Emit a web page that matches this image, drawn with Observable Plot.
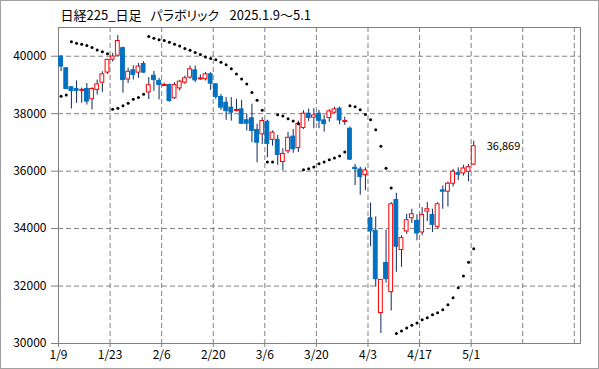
<!DOCTYPE html>
<html><head><meta charset="utf-8">
<script src="https://cdn.jsdelivr.net/npm/d3@7"></script>
<script src="https://cdn.jsdelivr.net/npm/@observablehq/plot@0.6"></script>
<style>
html,body{margin:0;padding:0;background:#fff;}
#chart svg{display:block;outline:1px solid #a0a0a0;outline-offset:-1px;}
</style></head><body><div id="chart"></div>
<script>
// Daily candles, one slot per weekday from 2025-01-09 to 2025-05-01
const opens  = [39990,39580,38920,38860,38830,38860,38500,38830,39080,39430,
                39880,40020,40280,39190,39510,39430,39730,38740,39320,39140,
                39000,39000,38535,38880,39080,39256,39510,39230,39200,39370,
                39020,38580,38380,38210,38130,38150,37770,37840,37430,37280,
                37720,37090,37090,36318,36690,37200,36800,37500,38000,37860,
                38000,37767,37850,38035,38175,37744,37477,36116,36058,35860,
                34360,33920,31061,32803,31788,34996,33254,33900,34361,34270,
                33865,34592,34477,34061,35331,35285,35562,35930,35920,35977,
                36230];
const highs  = [40010,39600,38930,39140,38890,39050,38900,39170,39460,39900,
                40100,40720,40320,39580,39670,39750,39810,39260,39470,39230,
                39060,39030,39080,39160,39310,39660,39660,39350,39430,39430,
                39050,38670,38560,38560,38500,38465,37980,38330,37630,37860,
                37770,37400,37245,36780,37350,37450,37740,38100,38160,38175,
                38116,37940,38140,38230,38230,37880,37535,36233,36140,36116,
                34890,34407,32215,33946,34904,35227,33750,34500,34673,34480,
                34730,34904,34673,34900,35480,35620,36060,36115,36207,36230,
                37040];
const lows   = [39465,38840,38165,38360,38360,38300,38130,38650,38730,39370,
                39800,39990,38710,39050,39170,39230,39400,38490,38780,38480,
                38940,38400,38500,38790,39020,39200,39080,39160,39140,38810,
                38500,38115,37770,37740,38060,37630,37400,36990,36290,36930,
                36465,36870,36200,36020,36600,36620,36650,37450,37720,37480,
                37477,37360,37700,38000,37616,37593,36370,35500,35160,35320,
                33370,31961,30345,32100,31130,32480,32653,33800,34177,33577,
                33750,34246,33865,34000,34673,34750,35450,35677,35827,35630,
                36200];
const closes = [39640,38860,38790,38790,38830,38420,38860,39020,39370,39870,
                39990,40530,39170,39460,39350,39640,39430,38990,39170,39000,
                39000,38440,39000,39115,39230,39547,39160,39230,39370,39045,
                38580,38210,38090,38035,38130,37650,37650,37400,36990,37745,
                36950,37340,36560,36600,37160,36760,37650,38000,37850,37940,
                37750,37640,38080,38150,37767,37744,36400,36070,35790,36023,
                33900,32238,32215,32238,34846,33369,33669,34292,34500,33830,
                34477,34673,34130,34846,35284,35562,35977,35873,36092,36138,
                36869];
// Parabolic SAR, one value per slot
const sar    = [38610,38650,40500,40450,40415,40370,40300,40220,40160,40090,
                38150,38190,38280,38360,38500,38560,38675,40683,40625,40570,
                40545,40486,40420,40360,40270,40210,40130,40060,39976,39918,
                39880,39790,39700,39560,39380,39210,39030,38740,38470,38118,
                36314,36314,37965,37919,37826,37744,37651,36046,36081,36140,
                36256,36314,36395,36453,36523,36663,38280,38245,38140,37970,
                37790,37442,36870,36100,35410,30345,30438,30542,30634,30715,
                30830,30900,31003,31073,31176,31349,31592,31938,32353,32827,
                33300];
const xTickSlots  = [0,10,20,30,40,50,60,70,80];
const xTickLabels = ["1/9","1/23","2/6","2/20","3/6","3/20","4/3","4/17","5/1"];
const xGridSlots  = [10,20,30,40,50,60,70,80,90,100];
const yTicks      = [30000,32000,34000,36000,38000,40000];
const titleParts  = ["日経225_日足","パラボリック","2025.1.9〜5.1"];

const data = opens.map((o, i) => ({x: i + 0.5, o, h: highs[i], l: lows[i], c: closes[i], s: sar[i]}));
const bodies = data.filter(d => d.o !== d.c);
const dojis = data.filter(d => d.o === d.c);
const last = data[data.length - 1];
const halfW = 0.37;
const font = "'Noto Sans CJK JP', 'Noto Sans', sans-serif";

const chart = Plot.plot({
  width: 599, height: 369,
  marginLeft: 58, marginRight: 19, marginTop: 27, marginBottom: 26,
  x: {domain: [0, 101.2], axis: null},
  y: {domain: [30000, 41000], axis: null},
  style: {fontFamily: font, fontSize: "12px", color: "#000", background: "#fff"},
  marks: [
    Plot.ruleY(yTicks.slice(1), {stroke: "#808080", strokeDasharray: "5,3", strokeWidth: 1}),
    Plot.ruleX(xGridSlots, {stroke: "#808080", strokeDasharray: "5,3", strokeWidth: 1}),
    Plot.frame({stroke: "#808080"}),
    Plot.axisY(yTicks, {tickSize: 7, tickPadding: 5, stroke: "#808080", fill: "#000", tickFormat: d3.format("d"), fontSize: 12, label: null}),
    Plot.axisX(xTickSlots, {tickSize: 4, tickPadding: 3, stroke: "#808080", fill: "#000", tickFormat: d => xTickLabels[xTickSlots.indexOf(d)], fontSize: 12, label: null}),
    Plot.ruleX(data, {x: "x", y1: "l", y2: "h", stroke: "#0d2a63", strokeWidth: 1}),
    Plot.rect(bodies, {
      x1: d => d.x - halfW, x2: d => d.x + halfW, y1: "o", y2: "c",
      fill: d => d.c > d.o ? "#ffffff" : "#0070c0",
      stroke: d => d.c > d.o ? "#ff0000" : "#0070c0", strokeWidth: 1
    }),
    Plot.link(dojis, {x1: d => d.x - halfW - 0.1, x2: d => d.x + halfW + 0.1, y1: "o", y2: "c", stroke: "#ff0000", strokeWidth: 2}),
    Plot.dot(data, {x: "x", y: "s", r: 1.5, fill: "#000", stroke: "none"}),
    Plot.text([last], {x: "x", y: "c", text: d => d3.format(",")(d.c), dx: 13, textAnchor: "start", fontSize: 11, fill: "#000"}),
    Plot.text([titleParts[0]], {text: d => d, frameAnchor: "top-left", dx: 2, dy: -12, textAnchor: "start", lineAnchor: "middle", fontSize: 13, fill: "#000"}),
    Plot.text([titleParts[1]], {text: d => d, frameAnchor: "top-left", dx: 92, dy: -12, textAnchor: "start", lineAnchor: "middle", fontSize: 13, fill: "#000", className: "kana"}),
    Plot.text([titleParts[2]], {text: d => d, frameAnchor: "top-left", dx: 171, dy: -12, textAnchor: "start", lineAnchor: "middle", fontSize: 13, fill: "#000"})
  ]
});
d3.select(chart).selectAll("text").filter(function() { return this.textContent === titleParts[1]; })
  .style("font-feature-settings", '"palt"');
document.getElementById("chart").appendChild(chart);
</script></body></html>
